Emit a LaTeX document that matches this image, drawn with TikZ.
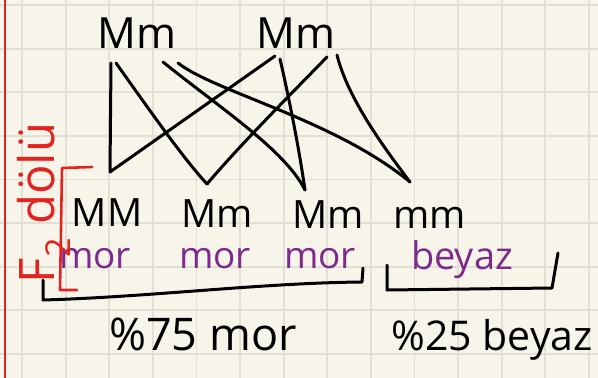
\documentclass[tikz,border=0pt]{standalone}
\usepackage{fontspec}
\setmainfont{Open Sans}
\definecolor{paper}{HTML}{F7F5EA}
\definecolor{gridc}{HTML}{E2E0D4}
\definecolor{redink}{HTML}{E3231F}
\definecolor{purpleink}{HTML}{7D2A8C}
\begin{document}
\begin{tikzpicture}[x=1pt,y=-1pt,
  ink/.style={draw=black,line width=3pt,line cap=round,line join=round},
  redpen/.style={draw=redink,line width=2.6pt,line cap=round,line join=round},
  gridline/.style={draw=gridc,line width=1.8pt},
  geno/.style={inner sep=0pt,anchor=base,text=black},
  pheno/.style={inner sep=0pt,anchor=base,text=purpleink,font=\fontsize{37}{37}\selectfont},
  ratio/.style={inner sep=0pt,anchor=base,text=black}]
\useasboundingbox (0,0) rectangle (598,378);
\fill[paper] (0,0) rectangle (598,378);
% grid
\foreach \k in {0,...,13} {\draw[gridline] ({22+43.6*\k},0) -- ({22+43.6*\k},378);}
\foreach \k in {0,...,8} {\draw[gridline] (0,{5+43.6*\k}) -- (598,{5+43.6*\k});}
% red margin
\draw[draw=redink,line width=1.8pt] (5,0) -- (5,378);

% parents
\node[geno,font=\fontsize{43}{43}\selectfont] (p1) at (137,48) {Mm};
\node[geno,font=\fontsize{43}{43}\selectfont] (p2) at (296,48) {Mm};
% children
\node[geno,font=\fontsize{39}{39}\selectfont] (c1) at (107,226) {MM};
\node[geno,font=\fontsize{39}{39}\selectfont] (c2) at (217,227) {Mm};
\node[geno,font=\fontsize{39}{39}\selectfont] (c3) at (328,228) {Mm};
\node[geno,font=\fontsize{39}{39}\selectfont] (c4) at (430,228) {mm};
% phenotypes
\node[pheno] (f1) at (95,268) {mor};
\node[pheno] (f2) at (215,268) {mor};
\node[pheno] (f3) at (320,268) {mor};
\node[pheno,font=\fontsize{38}{38}\selectfont] (f4) at (462,269) {beyaz};
% ratios
\node[ratio,font=\fontsize{45}{45}\selectfont] (r1) at (203,350) {\%75 mor};
\node[ratio,font=\fontsize{41}{41}\selectfont] (r2) at (492,350) {\%25 beyaz};
% F2 label
\node[inner sep=0pt,anchor=base,rotate=90,text=redink,font=\fontsize{49}{49}\selectfont] (fl) at (54,203) {F\textsubscript{2} dölü};

% connector end points
\coordinate (p1a) at (111,63);
\coordinate (p1b) at (116,63);
\coordinate (p1c) at (163,62);
\coordinate (p1d) at (178,63);
\coordinate (p2a) at (275,56);
\coordinate (p2b) at (280,59);
\coordinate (p2c) at (327,57);
\coordinate (p2d) at (337,55);
\coordinate (c1t) at (110,172);
\coordinate (c2t) at (207,184);
\coordinate (c3t) at (305,190);
\coordinate (c4t) at (410,182);

% connectors
\draw[ink] (p1a) -- (c1t) -- (p2a);
\draw[ink] (p1b) .. controls (160,125) and (185,160) .. (c2t);
\draw[ink] (p2c) .. controls (290,95) and (240,145) .. (c2t);
\draw[ink] (p1c) .. controls (220,108) and (285,150) .. (c3t);
\draw[ink] (p2b) .. controls (289,98) and (299,148) .. (c3t);
\draw[ink] (p1d) .. controls (215,92) and (335,120) .. (c4t);
\draw[ink] (p2d) .. controls (347,95) and (378,140) .. (c4t);

% brackets
\draw[redpen] (92,167) -- (62,168) -- (60,290) -- (77,290);
\draw[ink] (43,280) -- (43,300) .. controls (150,297) and (260,283) .. (362,282) -- (363,268);
\draw[ink] (387,265) -- (387,290) -- (552,288) -- (558,253);
\end{tikzpicture}
\end{document}
